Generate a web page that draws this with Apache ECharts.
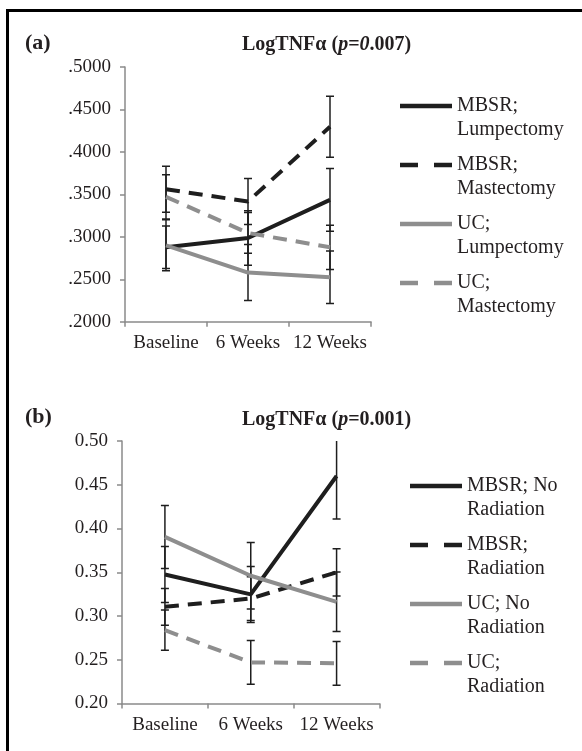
<!DOCTYPE html>
<html>
<head>
<meta charset="utf-8">
<script src="https://cdn.jsdelivr.net/npm/echarts@6/dist/echarts.min.js"></script>
<style>
html,body{margin:0;padding:0;background:#fff;}
#main{width:582px;height:751px;}
</style>
</head>
<body>
<div id="main"></div>
<script>
var categories = ['Baseline', '6 Weeks', '12 Weeks'];

// (a) surgery type
var mbsrLumpA = [0.2876, 0.2986, 0.3435];
var mbsrLumpErrA = [0.025, 0.032, 0.037];
var mbsrMastA = [0.3560, 0.3416, 0.4296];
var mbsrMastErrA = [0.027, 0.027, 0.036];
var ucLumpA = [0.2900, 0.2579, 0.2523];
var ucLumpErrA = [0.030, 0.033, 0.031];
var ucMastA = [0.3470, 0.3045, 0.2876];
var ucMastErrA = [0.026, 0.024, 0.026];

// (b) radiation
var mbsrNoRadB = [0.3475, 0.3247, 0.4600];
var mbsrNoRadErrB = [0.032, 0.032, 0.049];
var mbsrRadB = [0.3105, 0.3200, 0.3500];
var mbsrRadErrB = [0.021, 0.025, 0.027];
var ucNoRadB = [0.3904, 0.3460, 0.3162];
var ucNoRadErrB = [0.036, 0.038, 0.034];
var ucRadB = [0.2839, 0.2470, 0.2460];
var ucRadErrB = [0.023, 0.025, 0.025];

var FONT = "'Liberation Serif', 'Times New Roman', serif";
var BLACK = '#1e1e1e';
var GRAY = '#8e8e8e';
var AXIS = '#8a8a8a';
var TXT = '#231f20';

// legend keys: a solid bar, or two dashes
var ICON_SOLID = 'path://M0,0h52v4.5h-52z';
var ICON_DASH = 'path://M0,0h18v4.5h-18zM34,0h18v4.5h-18z';

var myChart = echarts.init(document.getElementById('main'), null, {renderer: 'canvas'});

function lineSeries(name, data, color, dashed, idx) {
    return {
        name: name,
        type: 'line',
        xAxisIndex: idx,
        yAxisIndex: idx,
        data: data,
        symbol: 'none',
        showSymbol: false,
        z: 3,
        lineStyle: {
            color: color,
            width: 4,
            type: dashed ? [14, 9] : 'solid'
        },
        itemStyle: {color: color}
    };
}

function errSeries(data, err, idx) {
    var rows = [];
    for (var i = 0; i < data.length; i++) {
        rows.push([i, data[i] - err[i], data[i] + err[i]]);
    }
    return {
        type: 'custom',
        xAxisIndex: idx,
        yAxisIndex: idx,
        data: rows,
        clip: true,
        z: 2,
        renderItem: function (params, api) {
            var lo = api.coord([api.value(0), api.value(1)]);
            var hi = api.coord([api.value(0), api.value(2)]);
            var w = 4;
            var st = {stroke: BLACK, lineWidth: 1.5};
            return {
                type: 'group',
                children: [
                    {type: 'line', shape: {x1: lo[0], y1: lo[1], x2: hi[0], y2: hi[1]}, style: st},
                    {type: 'line', shape: {x1: lo[0] - w, y1: lo[1], x2: lo[0] + w, y2: lo[1]}, style: st},
                    {type: 'line', shape: {x1: hi[0] - w, y1: hi[1], x2: hi[0] + w, y2: hi[1]}, style: st}
                ]
            };
        }
    };
}

function xAx(idx) {
    return {
        type: 'category',
        gridIndex: idx,
        data: categories,
        boundaryGap: true,
        axisLine: {lineStyle: {color: AXIS, width: 1.5}},
        axisTick: {show: true, length: 5, alignWithLabel: false, lineStyle: {color: AXIS, width: 1.5}},
        axisLabel: {color: TXT, fontFamily: FONT, fontSize: 19, margin: 12, interval: 0}
    };
}

function yAx(idx, digits) {
    return {
        type: 'value',
        gridIndex: idx,
        min: 0.2,
        max: 0.5,
        interval: 0.05,
        axisLine: {show: true, lineStyle: {color: AXIS, width: 1.5}},
        axisTick: {show: true, length: 5, lineStyle: {color: AXIS, width: 1.5}},
        splitLine: {show: false},
        axisLabel: {
            color: TXT, fontFamily: FONT, fontSize: 19, margin: 14,
            formatter: function (v) {
                var s = v.toFixed(digits);
                return digits == 4 ? s.replace(/^0/, '') : s;
            }
        }
    };
}

function legend(names, left, top) {
    var items = names.map(function (n, i) {
        return {name: n, icon: i % 2 ? ICON_DASH : ICON_SOLID};
    });
    return {
        orient: 'vertical',
        left: left,
        top: top,
        data: items,
        itemWidth: 52,
        itemHeight: 10,
        itemGap: -13,
        padding: 0,
        symbolKeepAspect: true,
        selectedMode: false,
        formatter: function (n) { return ' \n' + n; },
        textStyle: {color: TXT, fontFamily: FONT, fontSize: 20, lineHeight: 24, padding: [0, 0, 0, 0]}
    };
}

var namesA = ['MBSR;\nLumpectomy', 'MBSR;\nMastectomy', 'UC;\nLumpectomy', 'UC;\nMastectomy'];
var namesB = ['MBSR; No\nRadiation', 'MBSR;\nRadiation', 'UC; No\nRadiation', 'UC;\nRadiation'];

var option = {
    animation: false,
    backgroundColor: '#fff',
    title: [
        {text: '(a)', left: 25, top: 32, padding: 0,
            textStyle: {fontFamily: FONT, fontSize: 22, fontWeight: 'bold', color: TXT}},
        {text: '{b|LogTNFα (}{i|p}{b|=}{i|0}{b|.007)}', left: 242, top: 35, padding: 0,
            textStyle: {rich: {
                b: {fontFamily: FONT, fontSize: 20, fontWeight: 'bold', color: TXT},
                i: {fontFamily: FONT, fontSize: 20, fontWeight: 'bold', fontStyle: 'italic', color: TXT}
            }}},
        {text: '(b)', left: 25, top: 406, padding: 0,
            textStyle: {fontFamily: FONT, fontSize: 22, fontWeight: 'bold', color: TXT}},
        {text: '{b|LogTNFα (}{i|p}{b|=0.001)}', left: 242, top: 410, padding: 0,
            textStyle: {rich: {
                b: {fontFamily: FONT, fontSize: 20, fontWeight: 'bold', color: TXT},
                i: {fontFamily: FONT, fontSize: 20, fontWeight: 'bold', fontStyle: 'italic', color: TXT}
            }}}
    ],
    legend: [legend(namesA, 400, 70), legend(namesB, 410, 450)],
    grid: [
        {left: 125, top: 67, width: 246, height: 254.7},
        {left: 122, top: 441, width: 257.5, height: 262.5}
    ],
    xAxis: [xAx(0), xAx(1)],
    yAxis: [yAx(0, 4), yAx(1, 2)],
    series: [
        errSeries(mbsrLumpA, mbsrLumpErrA, 0),
        errSeries(mbsrMastA, mbsrMastErrA, 0),
        errSeries(ucLumpA, ucLumpErrA, 0),
        errSeries(ucMastA, ucMastErrA, 0),
        lineSeries(namesA[0], mbsrLumpA, BLACK, false, 0),
        lineSeries(namesA[1], mbsrMastA, BLACK, true, 0),
        lineSeries(namesA[2], ucLumpA, GRAY, false, 0),
        lineSeries(namesA[3], ucMastA, GRAY, true, 0),

        errSeries(mbsrNoRadB, mbsrNoRadErrB, 1),
        errSeries(mbsrRadB, mbsrRadErrB, 1),
        errSeries(ucNoRadB, ucNoRadErrB, 1),
        errSeries(ucRadB, ucRadErrB, 1),
        lineSeries(namesB[0], mbsrNoRadB, BLACK, false, 1),
        lineSeries(namesB[1], mbsrRadB, BLACK, true, 1),
        lineSeries(namesB[2], ucNoRadB, GRAY, false, 1),
        lineSeries(namesB[3], ucRadB, GRAY, true, 1)
    ],
    graphic: [
        {type: 'rect', shape: {x: 7.5, y: 10.5, width: 640, height: 800},
            style: {fill: null, stroke: '#000', lineWidth: 3}, silent: true}
    ]
};
myChart.setOption(option);
</script>
</body>
</html>
